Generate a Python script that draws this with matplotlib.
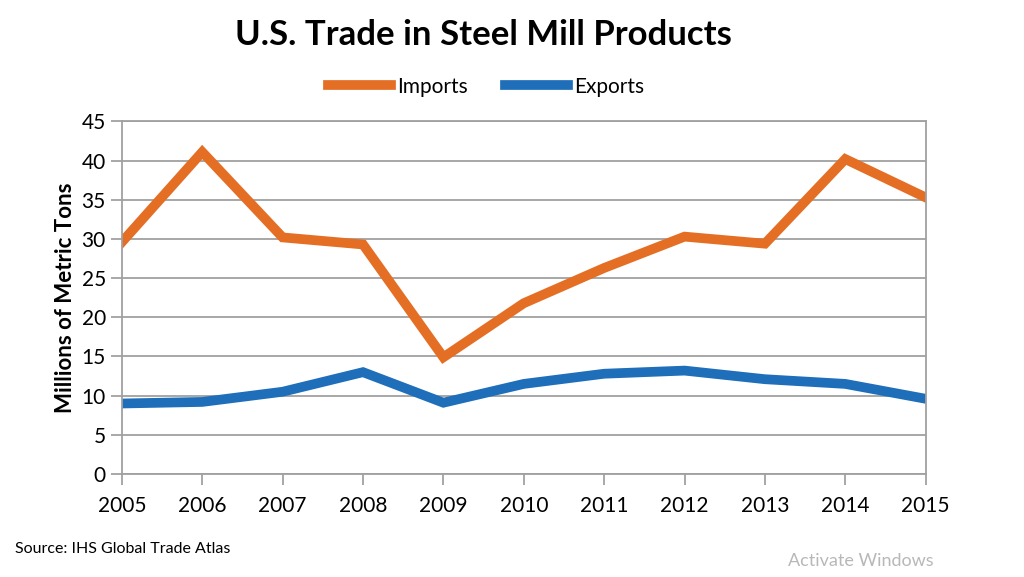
import matplotlib as mpl
mpl.use('Agg')
import matplotlib.pyplot as plt

# Data (millions of metric tons)
years = [2005, 2006, 2007, 2008, 2009, 2010, 2011, 2012, 2013, 2014, 2015]
imports = [29.6, 41.1, 30.2, 29.3, 14.9, 21.8, 26.3, 30.3, 29.4, 40.2, 35.3]
exports = [9.0, 9.2, 10.5, 13.0, 9.1, 11.5, 12.8, 13.2, 12.1, 11.5, 9.6]
yticks = list(range(0, 50, 5))

plt.rcParams['font.family'] = ['Lato', 'DejaVu Sans']

fig = plt.figure(figsize=(10.24, 5.77), dpi=100)
ax = fig.add_axes([0.119, 0.1785, 0.785, 0.611])

ax.plot(years, imports, color='#E46E24', lw=7, solid_joinstyle='miter', label='Imports')
ax.plot(years, exports, color='#1E6EBA', lw=7, solid_joinstyle='miter', label='Exports')

ax.set_xlim(2005, 2015)
ax.set_ylim(0, 45)
ax.set_xticks(years)
ax.set_yticks(yticks)
ax.tick_params(axis='both', labelsize=15, color='#9a9a9a', length=8, width=1.2)
ax.tick_params(axis='x', pad=8)
ax.grid(axis='y', color='#a0a0a0', lw=1.3)
ax.set_axisbelow(True)
for s in ax.spines.values():
    s.set_color('#a0a0a0')
    s.set_linewidth(1.3)
ax.set_ylabel('Millions of Metric Tons', fontsize=16, fontweight='bold', labelpad=4)

fig.text(0.472, 0.94, 'U.S. Trade in Steel Mill Products', ha='center', va='center',
         fontsize=25, fontweight='bold')
fig.legend(loc='center', bbox_to_anchor=(0.475, 0.85), ncol=2, frameon=False,
           fontsize=15, handlelength=3.0, handletextpad=0.3, columnspacing=1.8)

fig.text(0.015, 0.048, 'Source: IHS Global Trade Atlas', fontsize=11.5, va='center')
fig.text(0.77, 0.028, 'Activate Windows', fontsize=13, color='#b8b8b8', va='center')

fig.savefig('out.png', dpi=100)
